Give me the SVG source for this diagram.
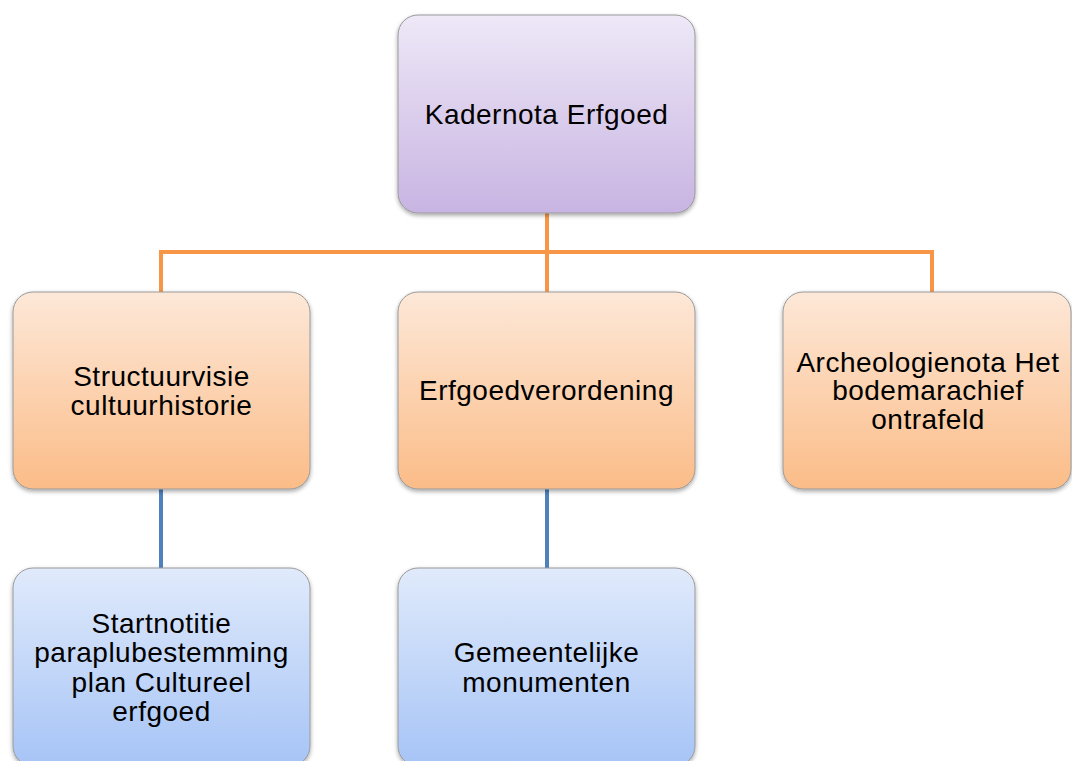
<svg xmlns="http://www.w3.org/2000/svg" width="1072" height="761" viewBox="0 0 1072 761">
<style>
.box{stroke:#9a9a9a;stroke-width:1;filter:url(#sh)}
.t{font-family:"Liberation Sans",Arial,sans-serif;font-size:28px;letter-spacing:0.5px;fill:#000;text-anchor:middle}
.co{fill:none;stroke:#f79646;stroke-width:4}
.cb{fill:none;stroke:#4f81bd;stroke-width:4}
</style>
<defs>
<linearGradient id="gp" x1="0" y1="0" x2="0" y2="1"><stop offset="0" stop-color="#eee8f7"/><stop offset="1" stop-color="#c8b4e2"/></linearGradient>
<linearGradient id="go" x1="0" y1="0" x2="0" y2="1"><stop offset="0" stop-color="#fde8d8"/><stop offset="1" stop-color="#fbbc88"/></linearGradient>
<linearGradient id="gb" x1="0" y1="0" x2="0" y2="1"><stop offset="0" stop-color="#e0eafb"/><stop offset="1" stop-color="#a6c4f6"/></linearGradient>
<filter id="sh" x="-10%" y="-10%" width="120%" height="120%"><feDropShadow dx="0" dy="2" stdDeviation="2" flood-color="#000" flood-opacity="0.35"/></filter>
</defs>
<rect width="1072" height="761" fill="#fff"/>
<g id="connectors">
<path class="co" d="M547 213V292M161 292V252H932V292"/>
<path class="cb" d="M161 489V568M547 489V568"/>
</g>
<g id="n-kadernota">
<rect class="box" x="398" y="15" width="297" height="198" rx="20" fill="url(#gp)"/>
<text class="t" x="546.5" y="123.5">Kadernota Erfgoed</text>
</g>
<g id="n-structuurvisie">
<rect class="box" x="13" y="292" width="297" height="197" rx="20" fill="url(#go)"/>
<text class="t" x="161.5" y="385.5">Structuurvisie<tspan x="161.5" dy="29">cultuurhistorie</tspan></text>
</g>
<g id="n-erfgoedverordening">
<rect class="box" x="398" y="292" width="297" height="197" rx="20" fill="url(#go)"/>
<text class="t" x="546.5" y="400">Erfgoedverordening</text>
</g>
<g id="n-archeologienota">
<rect class="box" x="783" y="292" width="288" height="197" rx="20" fill="url(#go)"/>
<text class="t" x="928" y="371.5">Archeologienota Het<tspan x="928" dy="28.5">bodemarachief</tspan><tspan x="928" dy="28.5">ontrafeld</tspan></text>
</g>
<g id="n-startnotitie">
<rect class="box" x="13" y="568" width="297" height="198" rx="20" fill="url(#gb)"/>
<text class="t" x="161.5" y="632.5">Startnotitie<tspan x="161.5" dy="29.5">paraplubestemming</tspan><tspan x="161.5" dy="29.5">plan Cultureel</tspan><tspan x="161.5" dy="29.5">erfgoed</tspan></text>
</g>
<g id="n-gemeentelijke">
<rect class="box" x="398" y="568" width="297" height="198" rx="20" fill="url(#gb)"/>
<text class="t" x="546.5" y="662">Gemeentelijke<tspan x="546.5" dy="29.5">monumenten</tspan></text>
</g>
</svg>
